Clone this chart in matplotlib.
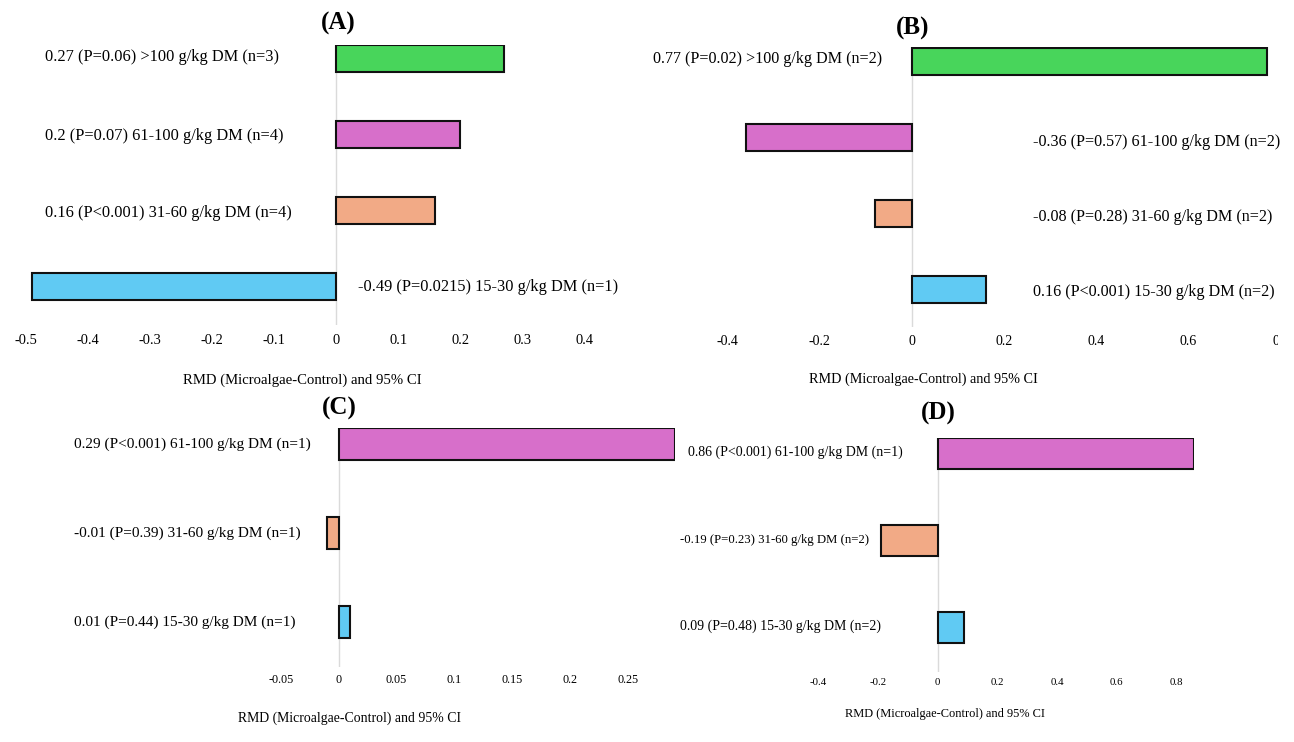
import matplotlib
matplotlib.use("Agg")
import matplotlib.pyplot as plt
from matplotlib.transforms import Bbox

plt.rcParams['font.family'] = ['Liberation Serif', 'DejaVu Serif']

W, H = 1294, 742

# colours per inclusion level
cat_colors = {">100": "#48D55B", "61-100": "#D76FCA", "31-60": "#F2AA86", "15-30": "#60CAF3"}

# (A)
a_cats = [">100", "61-100", "31-60", "15-30"]
a_rmd = [0.27, 0.2, 0.16, -0.49]
a_p = ["=0.06", "=0.07", "<0.001", "=0.0215"]
a_n = [3, 4, 4, 1]
a_ticks = [-0.5, -0.4, -0.3, -0.2, -0.1, 0, 0.1, 0.2, 0.3, 0.4]

# (B)
b_cats = [">100", "61-100", "31-60", "15-30"]
b_rmd = [0.77, -0.36, -0.08, 0.16]
b_p = ["=0.02", "=0.57", "=0.28", "<0.001"]
b_n = [2, 2, 2, 2]
b_ticks = [-0.4, -0.2, 0, 0.2, 0.4, 0.6, 0.8]

# (C)
c_cats = ["61-100", "31-60", "15-30"]
c_rmd = [0.29, -0.01, 0.01]
c_p = ["<0.001", "=0.39", "=0.44"]
c_n = [1, 1, 1]
c_ticks = [-0.05, 0, 0.05, 0.1, 0.15, 0.2, 0.25]

# (D)
d_cats = ["61-100", "31-60", "15-30"]
d_rmd = [0.86, -0.19, 0.09]
d_p = ["<0.001", "=0.23", "=0.48"]
d_n = [1, 2, 2]
d_ticks = [-0.4, -0.2, 0, 0.2, 0.4, 0.6, 0.8]

xlabel = "RMD (Microalgae-Control) and 95% CI"

# layout in pixels of the reference picture
layouts = {
    "A": dict(zero=336, ppu=621, xlim=(-0.5, 0.45), c0=59, step=76, top=45, bottom=325, bh=27,
              ticky=342, tickfs=10.4, xl=(302, 380), xlfs=10.6, title=(338, 23),
              labels=[(45, 57), (45, 136), (45, 213), (358, 287)], labfs=[11.8] * 4),
    "B": dict(zero=912, ppu=461, xlim=(-0.4, 0.8), c0=61, step=76, top=47, bottom=327, bh=27,
              ticky=343, tickfs=10.1, xl=(923, 379), xlfs=10.2, title=(913, 28),
              labels=[(653, 59), (1033, 142), (1033, 217), (1033, 292)], labfs=[11.6] * 4),
    "C": dict(zero=338.7, ppu=1158, xlim=(-0.05, 0.29), c0=444, step=89, top=428, bottom=667, bh=32,
              ticky=681, tickfs=8.7, xl=(349, 718), xlfs=9.9, title=(339, 408),
              labels=[(74, 444), (74, 533), (74, 622)], labfs=[11] * 3),
    "D": dict(zero=937.6, ppu=298.5, xlim=(-0.4, 0.86), c0=453.5, step=87, top=438, bottom=672, bh=31,
              ticky=684, tickfs=7.8, xl=(945, 714), xlfs=8.9, title=(938, 413),
              labels=[(688, 452), (680, 540), (680, 626)], labfs=[10, 9.2, 10]),
}

fig = plt.figure(figsize=(W / 100, H / 100), dpi=100)


def panel(name, cats, rmd, p, n, ticks):
    lay = layouts[name]
    zero, ppu = lay["zero"], lay["ppu"]
    x0, x1 = lay["xlim"]
    left = zero + x0 * ppu
    width = (x1 - x0) * ppu
    top, bottom = lay["top"], lay["bottom"]
    c0, step = lay["c0"], lay["step"]
    ax = fig.add_axes([left / W, 1 - bottom / H, width / W, (bottom - top) / H])
    ax.set_xlim(x0, x1)
    ax.set_ylim((bottom - c0) / step, (top - c0) / step)

    ax.barh(range(len(cats)), rmd, height=lay["bh"] / step,
            color=[cat_colors[c] for c in cats], edgecolor="#111111", linewidth=1.5, zorder=3)
    ax.axvline(0, color="#dadada", lw=1, zorder=1)

    for i in range(len(cats)):
        txt = f"{rmd[i]:g} (P{p[i]}) {cats[i]} g/kg DM (n={n[i]})"
        lx, ly = lay["labels"][i]
        ax.text((lx - zero) / ppu, (ly - c0) / step, txt, ha="left", va="center",
                fontsize=lay["labfs"][i], clip_on=False)

    for s in ax.spines.values():
        s.set_visible(False)
    ax.set_yticks([])
    em = lay["tickfs"] * 100 / 72
    pad_px = lay["ticky"] - bottom - 0.55 * em
    ax.set_xticks(ticks, [f"{t:g}" for t in ticks])
    ax.tick_params(axis="x", length=0, pad=pad_px * 0.72, labelsize=lay["tickfs"])
    # the last tick label of (B) is cut by the right edge in the original
    for lbl in ax.get_xticklabels():
        lbl.set_clip_box(Bbox.from_extents(0, 0, 1278, H))
        lbl.set_clip_on(True)

    ax.set_xlabel(xlabel, fontsize=lay["xlfs"])
    ax.xaxis.label.set_va("center")
    xx, xy = lay["xl"]
    ax.xaxis.set_label_coords((xx - left) / width, (bottom - xy) / (bottom - top))

    tx, ty = lay["title"]
    ax.text((tx - left) / width, (bottom - ty) / (bottom - top), f"({name})",
            transform=ax.transAxes, ha="center", va="center", fontsize=18, fontweight="bold")
    return ax


panel("A", a_cats, a_rmd, a_p, a_n, a_ticks)
panel("B", b_cats, b_rmd, b_p, b_n, b_ticks)
panel("C", c_cats, c_rmd, c_p, c_n, c_ticks)
panel("D", d_cats, d_rmd, d_p, d_n, d_ticks)

fig.savefig("out.png", dpi=100)
